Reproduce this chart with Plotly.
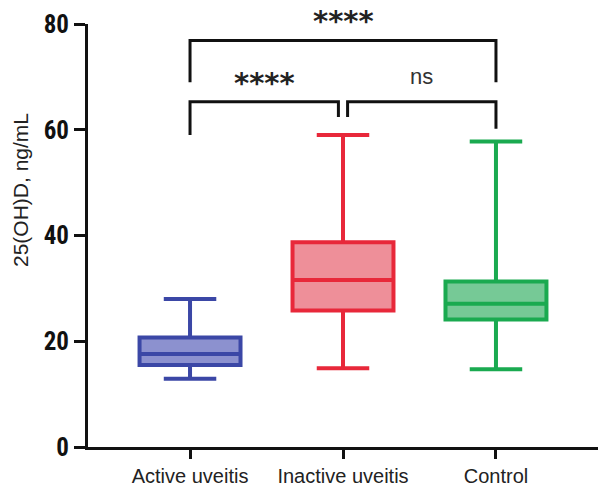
import plotly.graph_objects as go

categories = ["Active uveitis", "Inactive uveitis", "Control"]
lower_whisker = [12.9, 14.9, 14.7]
q1 = [15.5, 25.8, 24.1]
median = [17.6, 31.6, 27.1]
q3 = [20.7, 38.7, 31.3]
upper_whisker = [28.0, 59.0, 57.8]

line_colors = ["#3b47a6", "#e8283a", "#1aaa50"]
fill_colors = ["#8c91cf", "#ee8f99", "#76c996"]

y_ticks = [0, 20, 40, 60, 80]
y_title = "25(OH)D, ng/mL"

# significance brackets: (from, to, bracket y, left leg bottom, right leg bottom)
brackets = [
    (0, 2, 76.9, 69.0, 69.0),
    (0, 0.97, 65.3, 59.0, 62.4),
    (1.03, 2, 65.3, 62.4, 60.2),
]
# labels: (x, y, text)
labels = [
    (1.0, 81.3, "****"),
    (0.485, 69.6, "****"),
    (1.515, 69.6, "ns"),
]

narrow = "Liberation Sans Narrow, Arial Narrow, Roboto Condensed, Liberation Sans, Arial, sans-serif"
sans = "Liberation Sans, Arial, sans-serif"

# plot area in figure pixels (page body margin removed below)
L, T, B_PX = 88, 24, 447

fig = go.Figure()
for i, cat in enumerate(categories):
    fig.add_trace(go.Box(
        x=[i],
        q1=[q1[i]], median=[median[i]], q3=[q3[i]],
        lowerfence=[lower_whisker[i]], upperfence=[upper_whisker[i]],
        width=0.66, whiskerwidth=0.52,
        fillcolor=fill_colors[i],
        line=dict(color=line_colors[i], width=4),
        boxpoints=False, showlegend=False, hoverinfo="skip",
    ))

for x0, x1, yb, yl, yr in brackets:
    fig.add_trace(go.Scatter(
        x=[x0, x0, x1, x1], y=[yl, yb, yb, yr], mode="lines",
        line=dict(color="#111111", width=3), showlegend=False,
        cliponaxis=False, hoverinfo="skip",
    ))

Y_MAX = 80
for lx, ly, text in labels:
    is_star = text.startswith("*")
    fig.add_annotation(
        x=lx, y=ly / Y_MAX, yref="paper", text=f"<b>{text}</b>" if is_star else text,
        showarrow=False,
        font=dict(family="DejaVu Sans, sans-serif" if is_star else sans,
                  size=29 if is_star else 22,
                  color="#222222" if is_star else "#333333"),
        yanchor="middle", yshift=-4 if is_star else 2,
    )

fig.add_annotation(
    x=0, xref="paper", xanchor="center", xshift=20 - L,
    y=(B_PX - 190) / (B_PX - T), yref="paper",
    text=y_title, textangle=-90, showarrow=False,
    font=dict(family=sans, size=21, color="#222222"),
)

fig.update_layout(
    width=598, height=494,
    margin=dict(l=L, r=0, t=T, b=494 - B_PX, autoexpand=False),
    paper_bgcolor="white", plot_bgcolor="white",
    xaxis=dict(
        range=[-0.667, 2.667], automargin=False,
        tickmode="array", tickvals=[0, 1, 2], ticktext=categories,
        showline=True, linecolor="#111111", linewidth=3,
        ticks="outside", ticklen=9, tickwidth=3, tickcolor="#111111",
        showgrid=False, zeroline=False,
        tickfont=dict(family=sans, size=20, color="#222222"),
    ),
    yaxis=dict(
        range=[0, Y_MAX], automargin=False,
        tickmode="array", tickvals=y_ticks, ticktext=[f"<b>{t}</b>" for t in y_ticks],
        showline=True, linecolor="#111111", linewidth=3,
        ticks="outside", ticklen=11, tickwidth=3, tickcolor="#111111",
        showgrid=False, zeroline=False,
        tickfont=dict(family=narrow, size=25, color="#111111"),
    ),
)

fig.write_html("out.html", config={"displayModeBar": False},
               post_script="document.body.style.margin='0';")
